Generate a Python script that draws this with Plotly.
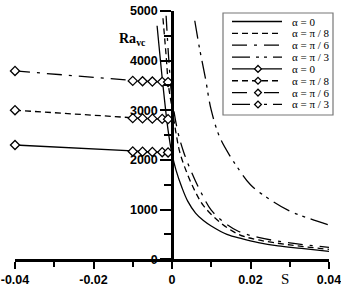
import plotly.graph_objects as go

# ---------------- data ----------------
# curves (positive side, no markers)
s_a0 = [-0.0038, -0.0023, -0.001, 0.0, 0.001, 0.0025, 0.004, 0.006, 0.008, 0.01, 0.014, 0.018, 0.022, 0.027, 0.033, 0.04]
ra_a0 = [4700, 3500, 2600, 2120, 1800, 1450, 1170, 930, 780, 670, 500, 410, 335, 270, 220, 160]

s_a8 = [-0.0023, -0.0015, -0.0009, 0.0, 0.001, 0.002, 0.004, 0.006, 0.008, 0.012, 0.017, 0.022, 0.03, 0.04]
ra_a8 = [4850, 4100, 3500, 3050, 2550, 2150, 1700, 1350, 1080, 760, 500, 390, 290, 200]

s_a6 = [-0.0015, -0.0008, 0.0, 0.0015, 0.003, 0.005, 0.0075, 0.01, 0.013, 0.017, 0.022, 0.03, 0.04]
ra_a6 = [4900, 4000, 3250, 2560, 2150, 1750, 1330, 990, 760, 560, 440, 330, 240]

s_a3 = [0.0058, 0.007, 0.0085, 0.01, 0.0122, 0.015, 0.0165, 0.02, 0.025, 0.03, 0.035, 0.04]
ra_a3 = [4800, 4250, 3650, 3000, 2450, 2050, 1870, 1500, 1200, 970, 820, 690]

# marker series (negative side)
s_neg = [-0.04, -0.01, -0.0075, -0.005, -0.0025, -0.001]
ra_neg_a0 = [2300, 2170, 2165, 2160, 2155, 2150]
ra_neg_a8 = [3000, 2840, 2835, 2830, 2825, 2820]
ra_neg_a6 = [3790, 3590, 3582, 3576, 3570, 3565]

x_tickvals = [-0.04, -0.02, 0, 0.02, 0.04]
x_ticktext = ["-0.04", "-0.02", "0", "0.02", "0.04"]
y_tickvals = [0, 1000, 2000, 3000, 4000, 5000]
y_ticktext = ["0", "1000", "2000", "3000", "4000", "5000"]

legend_labels = ["α = 0", "α = π / 8", "α = π / 6", "α = π / 3",
                 "α = 0", "α = π / 8", "α = π / 6", "α = π / 3"]

# ---------------- styles ----------------
W, H = 341, 286
DASH_SOLID = "solid"
DASH_8 = "6px,4px"
DASH_6 = "15px,7px,3px,7px"
DASH_3 = "18px,6px,3px,5px,3px,6px"
dashes = [DASH_SOLID, DASH_8, DASH_6, DASH_3]

fig = go.Figure()

for s, ra, d in [(s_a0, ra_a0, DASH_SOLID), (s_a8, ra_a8, DASH_8),
                 (s_a6, ra_a6, DASH_6), (s_a3, ra_a3, DASH_3)]:
    fig.add_trace(go.Scatter(x=s, y=ra, mode="lines", line_shape="spline",
                             line=dict(color="black", width=1.3, dash=d),
                             showlegend=False))

for ra, d in [(ra_neg_a0, DASH_SOLID), (ra_neg_a8, DASH_8), (ra_neg_a6, DASH_6)]:
    fig.add_trace(go.Scatter(x=s_neg, y=ra, mode="lines+markers", cliponaxis=False,
                             line=dict(color="black", width=1.3, dash=d),
                             marker=dict(symbol="diamond", size=7, color="white",
                                         line=dict(color="black", width=1.3)),
                             showlegend=False))

tickfont = dict(family="Liberation Sans, Arial", size=12.5, color="black", weight="bold")

fig.update_layout(
    template="none",
    width=W, height=H,
    margin=dict(l=0, r=0, t=0, b=0, autoexpand=False),
    paper_bgcolor="white", plot_bgcolor="white",
    showlegend=False,
    xaxis=dict(range=[-0.04, 0.04], domain=[15 / W, 329 / W], automargin=False,
               showgrid=False, zeroline=False, ticklabeloverflow="allow",
               showline=True, linecolor="black", linewidth=2.5,
               ticks="outside", ticklen=7, tickwidth=2, tickcolor="black",
               tickvals=x_tickvals, ticktext=x_ticktext, tickfont=tickfont,
               minor=dict(dtick=0.01, ticks="outside", ticklen=5, tickwidth=2,
                          tickcolor="black", showgrid=False),
               anchor="y"),
    yaxis=dict(range=[0, 5000], domain=[(H - 259.3) / H, (H - 10.8) / H], automargin=False,
               showgrid=False, zeroline=False, ticklabeloverflow="allow",
               showline=True, linecolor="black", linewidth=2.5,
               ticks="outside", ticklen=11, tickwidth=2, tickcolor="black",
               tickvals=y_tickvals, ticktext=y_ticktext, tickfont=tickfont,
               minor=dict(dtick=500, ticks="outside", ticklen=7, tickwidth=2,
                          tickcolor="black", showgrid=False),
               anchor="free", position=172 / W),
)

def px(x):
    return x / W

def py(y):
    return 1 - y / H

# axis titles
fig.add_annotation(x=px(132), y=py(29), xref="paper", yref="paper",
                   text="<b>Ra<sub>vc</sub></b>", showarrow=False,
                   font=dict(family="Liberation Serif, Times New Roman", size=14, color="black"))
fig.add_annotation(x=px(291), y=py(279), xref="paper", yref="paper",
                   text="S", showarrow=False, yanchor="middle",
                   font=dict(family="Liberation Serif, Times New Roman", size=15, color="black"))

# manual legend
shapes = []
shapes.append(dict(type="rect", xref="paper", yref="paper",
                   x0=px(223), x1=px(333), y0=py(13), y1=py(115),
                   line=dict(color="#777777", width=1.2), fillcolor="white", layer="above"))
row0, step = 21.5, 11.85
for i, lab in enumerate(legend_labels):
    yy = row0 + step * i
    d = dashes[i % 4]
    shapes.append(dict(type="line", xref="paper", yref="paper",
                       x0=px(232), x1=px(282), y0=py(yy), y1=py(yy),
                       line=dict(color="black", width=1.3, dash=d), layer="above"))
    if i >= 4:
        cx = 258
        hw, hh = 3.4, 3.4
        path = (f"M {px(cx - hw)},{py(yy)} L {px(cx)},{py(yy - hh)} "
                f"L {px(cx + hw)},{py(yy)} L {px(cx)},{py(yy + hh)} Z")
        shapes.append(dict(type="path", xref="paper", yref="paper", path=path,
                           line=dict(color="black", width=1.3), fillcolor="white",
                           layer="above"))
    fig.add_annotation(x=px(290), y=py(yy), xref="paper", yref="paper",
                       text=lab, showarrow=False, xanchor="left", yanchor="middle",
                       font=dict(family="Liberation Serif, Times New Roman", size=11, color="black"))
fig.update_layout(shapes=shapes)

fig.write_html("out.html")
